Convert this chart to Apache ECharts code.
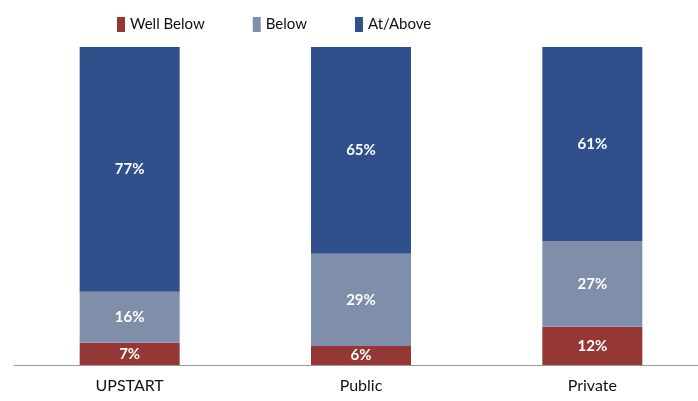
<!DOCTYPE html>
<html><head><meta charset="utf-8">
<script src="https://cdn.jsdelivr.net/npm/echarts@6/dist/echarts.min.js"></script>
<style>html,body{margin:0;padding:0;background:#fff;overflow:hidden}#c{width:710px;height:401px}</style>
</head><body><div id="c"></div>
<script>
const categories = ['UPSTART', 'Public', 'Private'];
const wellBelow = [7, 6, 12];
const below = [16, 29, 27];
const atAbove = [77, 65, 61];
const seriesNames = ['Well Below', 'Below', 'At/Above'];
const colors = ['#953735', '#7f8ea9', '#30508c'];
const font = 'Lato, "Open Sans", sans-serif';

const chart = echarts.init(document.getElementById('c'));
const mk = (name, data, color) => ({
  name, type: 'bar', stack: 'all', data, barWidth: 100,
  itemStyle: { color },
  label: { show: true, position: 'inside', formatter: '{c}%', color: '#fff', fontWeight: 'bold', fontSize: 15, fontFamily: font }
});
chart.setOption({
  animation: false,
  color: colors,
  legend: {
    top: 12, left: 112, itemGap: 48, itemWidth: 8, itemHeight: 15,
    icon: 'rect',
    textStyle: { fontSize: 15, color: '#111', fontFamily: font },
    data: seriesNames
  },
  grid: { left: 14, right: 2, top: 47, bottom: 36 },
  xAxis: {
    type: 'category', data: categories,
    axisLine: { lineStyle: { color: '#9a9a9a', width: 1 } },
    axisTick: { show: false },
    axisLabel: { color: '#111', fontSize: 16, fontFamily: font, margin: 13 }
  },
  yAxis: { type: 'value', min: 0, max: 100, show: false },
  series: [mk(seriesNames[0], wellBelow, colors[0]), mk(seriesNames[1], below, colors[1]), mk(seriesNames[2], atAbove, colors[2])]
});
</script></body></html>
